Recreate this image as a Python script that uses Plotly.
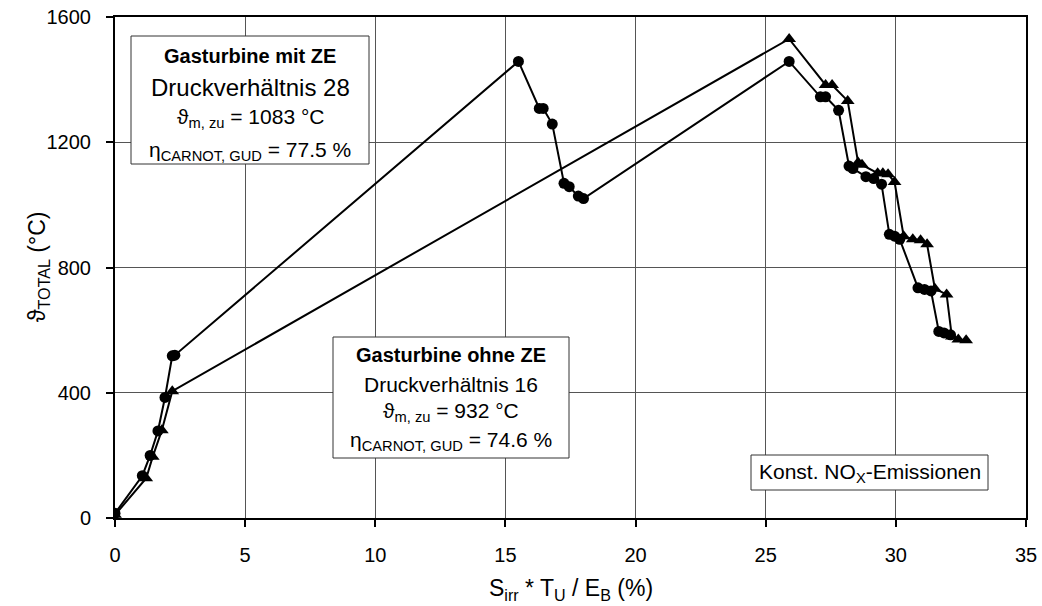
import plotly.graph_objects as go

# Gas turbine with reheat (mit ZE): temperature vs. cumulative irreversibility
mit_ze_x = [0.0, 1.05, 1.35, 1.65, 1.92, 2.2, 2.3, 15.5, 16.3, 16.45, 16.8, 17.25, 17.45,
            17.8, 18.0, 25.9, 27.1, 27.3, 27.8, 28.2, 28.35, 28.85, 29.15, 29.45, 29.75,
            29.95, 30.15, 30.85, 31.1, 31.35, 31.65, 31.85, 32.1]
mit_ze_y = [15, 135, 200, 278, 385, 518, 520, 1458, 1308, 1308, 1258, 1069, 1058,
            1028, 1020, 1458, 1345, 1345, 1302, 1124, 1116, 1090, 1084, 1066, 906,
            900, 890, 735, 730, 725, 596, 591, 585]

# Gas turbine without reheat (ohne ZE)
ohne_ze_x = [0.0, 1.2, 1.45, 1.8, 2.2, 25.9, 27.3, 27.55, 28.15, 28.55, 28.7, 29.3, 29.5,
             29.7, 29.95, 30.3, 30.65, 30.95, 31.2, 31.5, 31.95, 32.15, 32.4, 32.7]
ohne_ze_y = [10, 127, 196, 280, 405, 1530, 1383, 1383, 1332, 1135, 1128, 1101, 1101,
             1098, 1073, 900, 890, 887, 874, 732, 714, 580, 570, 568]

x_ticks = [0, 5, 10, 15, 20, 25, 30, 35]
y_ticks = [0, 400, 800, 1200, 1600]

FONT = "Liberation Sans, Arial, sans-serif"
W, H = 1042, 606
L, R, T, B = 115, 16, 17, 88
PW, PH = W - L - R, H - T - B


def px(xp):
    return (xp - L) / PW


def py(yp):
    return (H - B - yp) / PH


fig = go.Figure()
fig.add_trace(go.Scatter(
    x=mit_ze_x, y=mit_ze_y, mode="lines+markers",
    line=dict(color="black", width=2),
    marker=dict(symbol="circle", size=11, color="black"),
    name="mit ZE", showlegend=False,
))
fig.add_trace(go.Scatter(
    x=ohne_ze_x, y=ohne_ze_y, mode="lines+markers",
    line=dict(color="black", width=2),
    marker=dict(symbol="triangle-up", size=12, color="black"),
    name="ohne ZE", showlegend=False,
))

shapes = []
annotations = []


def add_box(x0, y0, x1, y1):
    shapes.append(dict(type="rect", xref="paper", yref="paper",
                       x0=px(x0), x1=px(x1), y0=py(y1), y1=py(y0),
                       line=dict(color="#333", width=1), fillcolor="white",
                       layer="above"))


def add_text(xc, yc, text, size, angle=0):
    annotations.append(dict(xref="paper", yref="paper", x=px(xc), y=py(yc),
                            xanchor="center", yanchor="middle", showarrow=False,
                            textangle=angle, text=text,
                            font=dict(family=FONT, size=size, color="black")))


# Box: with reheat
add_box(131, 36, 369, 164)
add_text(250, 56, "<b>Gasturbine mit ZE</b>", 20)
add_text(250, 87, "Druckverhältnis 28", 24)
add_text(250, 118, "ϑ<sub>m, zu</sub> = 1083 °C", 21)
add_text(250, 151, "η<sub>CARNOT, GUD</sub> = 77.5 %", 21)

# Box: without reheat
add_box(333, 337, 569, 458)
add_text(451, 355, "<b>Gasturbine ohne ZE</b>", 20)
add_text(451, 384, "Druckverhältnis 16", 21)
add_text(451, 412, "ϑ<sub>m, zu</sub> = 932 °C", 21)
add_text(451, 441, "η<sub>CARNOT, GUD</sub> = 74.6 %", 21)

# Box: constant NOx
add_box(751, 455, 988, 490)
add_text(869.5, 472.5, "Konst. NO<sub>X</sub>-Emissionen", 21)

# Axis titles
add_text(570.5, 589, "S<sub>irr</sub> * T<sub>U</sub> / E<sub>B</sub> (%)", 23)
add_text(38, 267, "ϑ<sub>TOTAL</sub> (°C)", 23, angle=-90)

axis_common = dict(
    showline=True, linecolor="black", linewidth=2, mirror=True,
    showgrid=True, gridcolor="#555", gridwidth=1,
    ticks="outside", ticklen=7, tickwidth=2, tickcolor="black",
    tickfont=dict(family=FONT, size=20, color="black"),
    zeroline=False, automargin=False,
)

fig.update_layout(
    width=W, height=H,
    margin=dict(l=L, r=R, t=T, b=B),
    paper_bgcolor="white", plot_bgcolor="white",
    xaxis=dict(range=[0, 35], tickvals=x_ticks, ticklabelstandoff=11, **axis_common),
    yaxis=dict(range=[0, 1600], tickvals=y_ticks, ticklabelstandoff=11, **axis_common),
    shapes=shapes, annotations=annotations,
    font=dict(family=FONT),
)

fig.write_html("out.html")
